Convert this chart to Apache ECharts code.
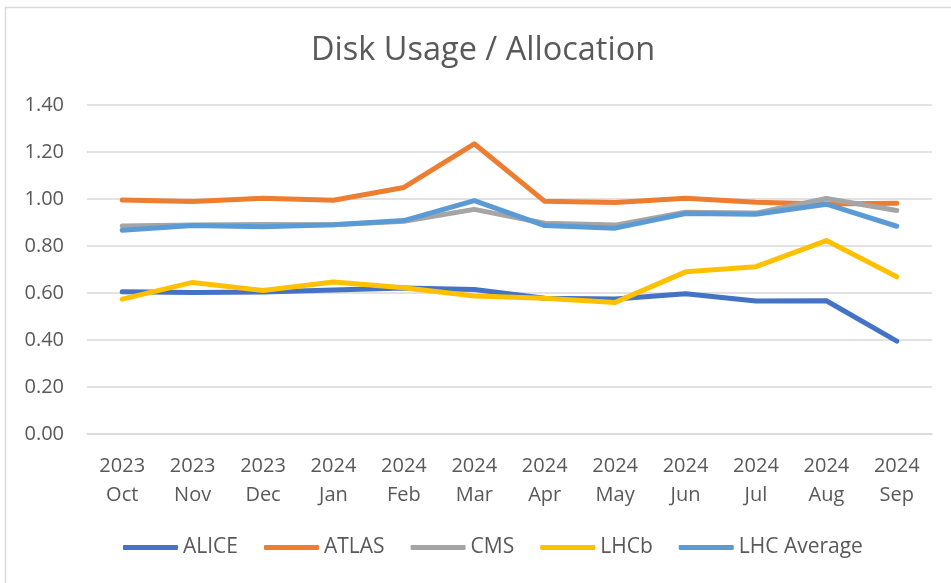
<!DOCTYPE html>
<html>
<head>
<meta charset="utf-8">
<script src="https://cdn.jsdelivr.net/npm/echarts@6/dist/echarts.min.js"></script>
<style>
  html, body { margin: 0; padding: 0; background: #fff; }
  #main { width: 951px; height: 583px; }
</style>
</head>
<body>
<div id="main"></div>
<script>
// months shown on the x axis (two-line labels: year / month)
var years = ['2023', '2023', '2023', '2024', '2024', '2024', '2024', '2024', '2024', '2024', '2024', '2024']
var months = ['Oct', 'Nov', 'Dec', 'Jan', 'Feb', 'Mar', 'Apr', 'May', 'Jun', 'Jul', 'Aug', 'Sep']

var alice = [0.605, 0.602, 0.604, 0.613, 0.621, 0.615, 0.578, 0.574, 0.597, 0.566, 0.567, 0.395]
var atlas = [0.996, 0.989, 1.003, 0.995, 1.049, 1.235, 0.990, 0.985, 1.003, 0.986, 0.979, 0.982]
var cms = [0.885, 0.889, 0.891, 0.890, 0.905, 0.956, 0.897, 0.889, 0.944, 0.940, 1.002, 0.951]
var lhcb = [0.574, 0.645, 0.611, 0.647, 0.622, 0.587, 0.578, 0.560, 0.690, 0.712, 0.823, 0.669]
var lhcAvg = [0.867, 0.887, 0.882, 0.890, 0.908, 0.993, 0.887, 0.876, 0.938, 0.935, 0.978, 0.884]

var yTicks = { min: 0, max: 1.4, interval: 0.2 }

var categories = years.map(function (y, i) { return y + '\n' + months[i] })

var font = 'Open Sans'
var textColor = '#595959'
var gridColor = '#D9D9D9'

function mkLine(name, data, color) {
  return {
    name: name,
    type: 'line',
    data: data,
    symbol: 'none',
    smooth: false,
    lineStyle: { width: 5, color: color, cap: 'round', join: 'round' },
    itemStyle: { color: color },
  }
}

var chart = echarts.init(document.getElementById('main'))

var option = {
  backgroundColor: '#fff',
  animation: false,
  title: {
    text: 'Disk Usage / Allocation',
    left: 311,
    top: 31,
    padding: 0,
    textStyle: { fontFamily: font, fontSize: 32.5, fontWeight: 'normal', color: textColor, lineHeight: 40 },
  },
  graphic: [
    {
      type: 'rect',
      shape: { x: 5.5, y: 7.5, width: 1000, height: 1000 },
      style: { fill: 'none', stroke: gridColor, lineWidth: 1.5 },
      silent: true,
    },
  ],
  legend: {
    bottom: 20,
    left: 118,
    icon: 'roundRect',
    itemWidth: 55,
    itemHeight: 5,
    itemGap: 26,
    textStyle: { fontFamily: font, fontSize: 21, color: textColor },
    data: ['ALICE', 'ATLAS', 'CMS', 'LHCb', 'LHC Average'],
  },
  grid: { left: 87, right: 19, top: 105, bottom: 149 },
  xAxis: {
    type: 'category',
    data: categories,
    boundaryGap: true,
    axisLine: { show: true, lineStyle: { color: gridColor, width: 1.5 } },
    axisTick: { show: false },
    axisLabel: { fontFamily: font, fontSize: 20, color: textColor, lineHeight: 29, margin: 18, interval: 0 },
  },
  yAxis: {
    type: 'value',
    min: yTicks.min,
    max: yTicks.max,
    interval: yTicks.interval,
    axisLine: { show: false },
    axisTick: { show: false },
    splitLine: { lineStyle: { color: gridColor, width: 1.5 } },
    axisLabel: {
      fontFamily: font, fontSize: 20, color: textColor, margin: 23,
      formatter: function (v) { return v.toFixed(2) },
    },
  },
  series: [
    mkLine('ALICE', alice, '#4472C4'),
    mkLine('ATLAS', atlas, '#ED7D31'),
    mkLine('CMS', cms, '#A5A5A5'),
    mkLine('LHCb', lhcb, '#FFC000'),
    mkLine('LHC Average', lhcAvg, '#5B9BD5'),
  ],
}

chart.setOption(option)
</script>
</body>
</html>
